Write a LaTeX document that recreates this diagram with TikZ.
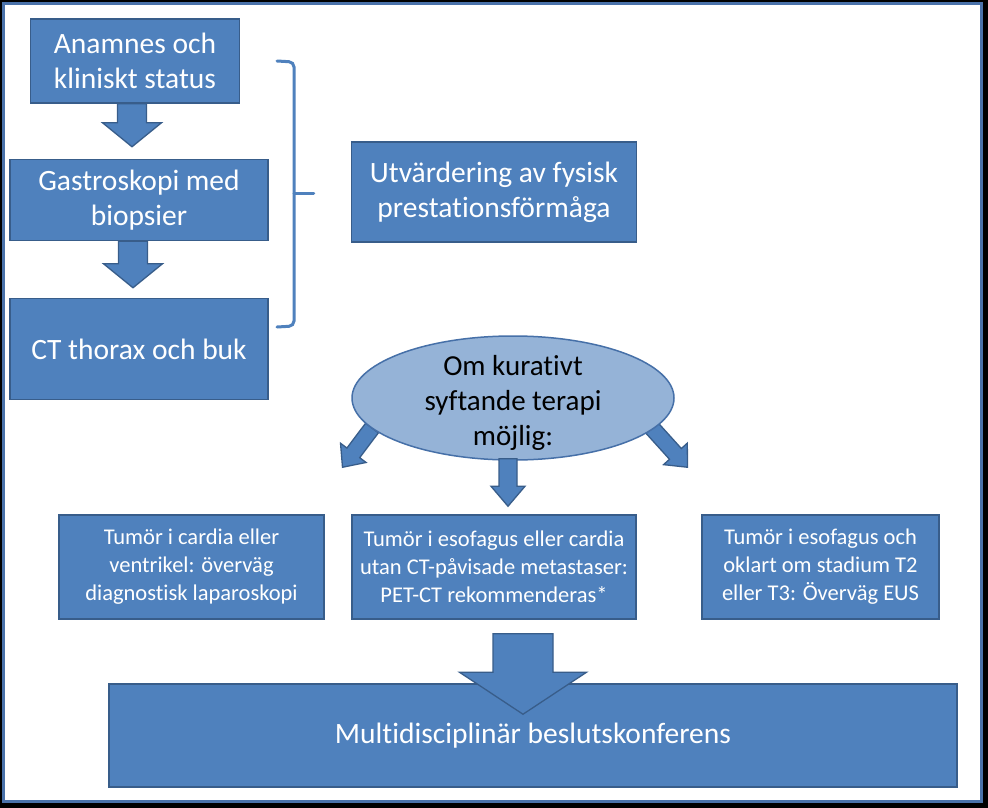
\documentclass[tikz,border=0pt]{standalone}
\usepackage{fontspec}
\setmainfont{Carlito}[Ligatures={NoCommon}]
\usetikzlibrary{calc,shapes.geometric}
\definecolor{boxfill}{RGB}{79,129,189}
\definecolor{boxline}{RGB}{56,93,138}
\definecolor{ellfill}{RGB}{149,179,215}
\definecolor{ellline}{RGB}{70,112,168}
\definecolor{framecol}{RGB}{74,114,170}
\newcommand\blkarrow[6]{% name, from, to, shaft half width, head half width, head length
  \coordinate (#1-s) at #2;
  \coordinate (#1-t) at #3;
  \coordinate (#1-h) at ($(#1-t)!#6!(#1-s)$);
  \filldraw[blockarrow]
    ($(#1-s)!#4!90:(#1-t)$) -- ($(#1-h)!#4!-90:(#1-s)$) -- ($(#1-h)!#5!-90:(#1-s)$)
    -- (#1-t) -- ($(#1-h)!#5!90:(#1-s)$) -- ($(#1-h)!#4!90:(#1-s)$)
    -- ($(#1-s)!#4!-90:(#1-t)$) -- cycle;
}
\begin{document}
\begin{tikzpicture}[x=1pt,y=-1pt,
  box/.style={draw=boxline, fill=boxfill, line width=1.5pt, text=white, align=center,
    inner sep=0pt, rectangle, font=\fontsize{29.5}{35}\selectfont},
  smallbox/.style={box, font=\fontsize{22.5}{28}\selectfont},
  blockarrow/.style={fill=boxfill, draw=boxline, line width=1.3pt, line join=miter},
  brace/.style={draw=boxfill, line width=3pt, line cap=round, rounded corners=5pt}]
\useasboundingbox (0,0) rectangle (988,808);
\fill[black] (0,0) rectangle (988,808);
\draw[framecol, line width=2.5pt, fill=white] (3.5,3.5) rectangle (981.5,801.5);

\node[box, minimum width=209, minimum height=84] (A) at (135,61) {Anamnes och\\kliniskt status};
\node[box, minimum width=258, minimum height=81] (B) at (139,200) {Gastroskopi med\\biopsier};
\node[box, minimum width=258, minimum height=101] (C) at (139,349) {CT thorax och buk};
\node[box, minimum width=285, minimum height=100] (D) at (494,192) {Utvärdering av fysisk\\prestationsförmåga};

\node[smallbox, minimum width=265, minimum height=104] (E) at (191.5,567) {Tumör i cardia eller\\ventrikel: överväg\\diagnostisk laparoskopi};
\node[smallbox, minimum width=284, minimum height=104] (F) at (494,567) {Tumör i esofagus eller cardia\\utan CT-påvisade metastaser:\\PET-CT rekommenderas*};
\node[smallbox, minimum width=237, minimum height=104] (G) at (820.5,567) {Tumör i esofagus och\\oklart om stadium T2\\eller T3: Överväg EUS};
\node[box, minimum width=848, minimum height=103] (H) at (533,735.5) {Multidisciplinär beslutskonferens};

% arrows in the left column
\blkarrow{a1}{($(A.south)+(-3,0)$)}{($(B.north)+(-7,-12)$)}{14.5pt}{29.5pt}{24pt}
\blkarrow{a2}{($(B.south)+(-6,0)$)}{($(C.north)+(-6,-10)$)}{14.5pt}{29.5pt}{24pt}

% brace
\draw[brace] (277,61) -- (294,62) -- (294,326) -- (277,327);
\draw[draw=boxfill, line width=3pt, line cap=round] (294,193) -- ($(D.west)+(-37,1)$);

% ellipse and its arrows
\coordinate (ec) at (513,398);
\blkarrow{a3}{($(ec)+(-141,30)$)}{($(E.north)+(151,-47)$)}{8pt}{16pt}{18pt}
\blkarrow{a4}{($(ec)+(139,30)$)}{($(G.north)+(-133,-47)$)}{8pt}{16pt}{18pt}
\node[ellipse, draw=ellline, fill=ellfill, line width=1.5pt, minimum width=322, minimum height=124,
  inner sep=0pt] (ell) at (ec) {};
\node[align=center, inner sep=0pt, font=\fontsize{29}{35}\selectfont] (elltext) at ($(ell.center)+(0,5)$) {Om kurativt\\syftande terapi\\möjlig:};
\blkarrow{a5}{($(ell.south)+(-5,-2)$)}{($(F.north)+(14,-8)$)}{9pt}{17pt}{20pt}

% big arrow to conference
\blkarrow{a6}{($(F.south)+(29,14)$)}{($(H.north)+(-10,31)$)}{30pt}{63.5pt}{42pt}
\end{tikzpicture}
\end{document}
